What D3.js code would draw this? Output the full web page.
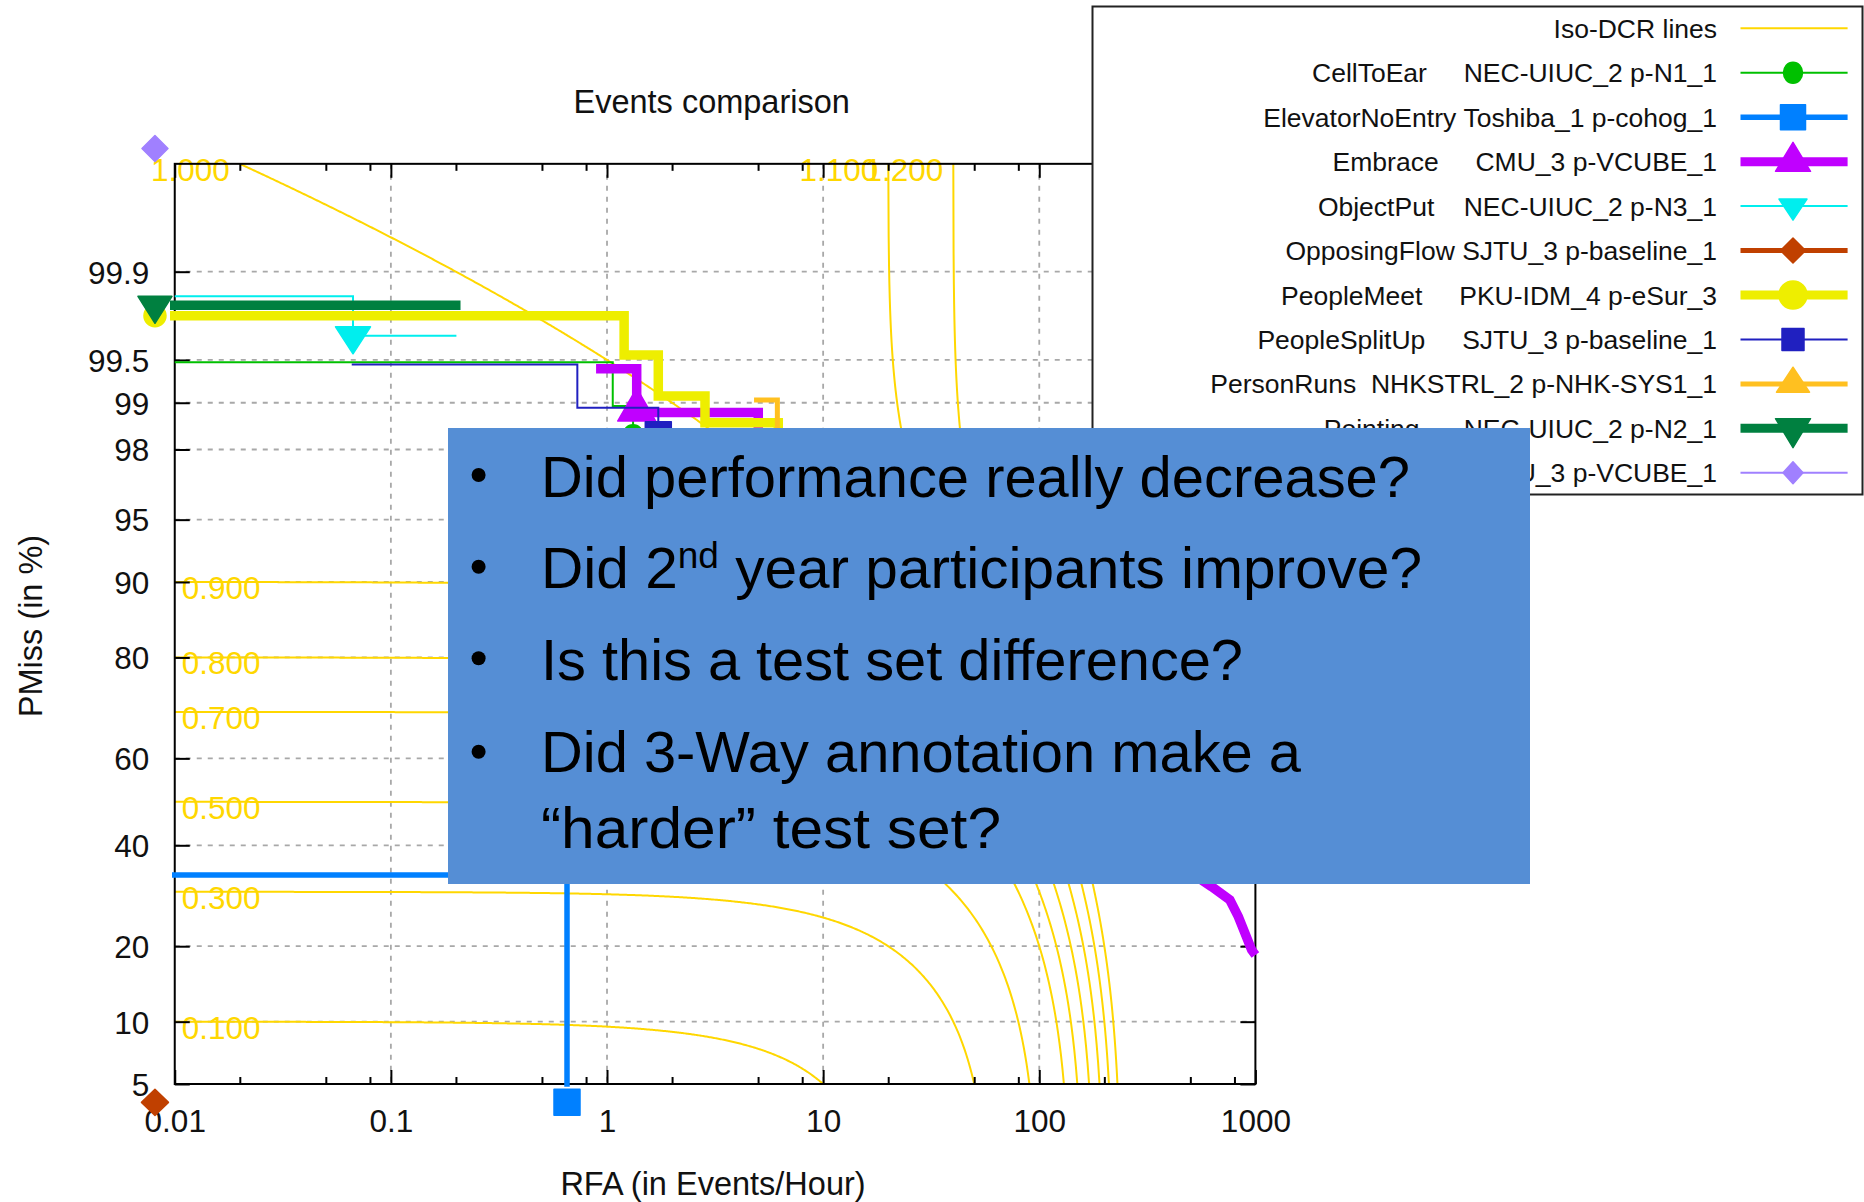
<!DOCTYPE html>
<html>
<head>
<meta charset="utf-8">
<script src="https://cdn.jsdelivr.net/npm/d3@7"></script>
<style>
  html, body { margin: 0; padding: 0; background: #fff; }
  svg { display: block; }
  text { font-family: "Liberation Sans", Arial, sans-serif; }
</style>
</head>
<body>
<svg id="chart" width="1864" height="1202"></svg>
<script>
// ---------- axis ticks ----------
const rfaTicks = [0.01, 0.1, 1, 10, 100, 1000];
const rfaTickLabels = ["0.01", "0.1", "1", "10", "100", "1000"];
const rfaMinorFactors = [2, 5, 8];
const rfaGrid = [0.1, 1, 10, 100];
const pmissTicks = [5, 10, 20, 40, 60, 80, 90, 95, 98, 99, 99.5, 99.9];
const pmissTickLabels = ["5", "10", "20", "40", "60", "80", "90", "95", "98", "99", "99.5", "99.9"];

// ---------- iso-DCR reference lines (DCR = PMiss + beta * RFA) ----------
const isoDcrLevels = [0.1, 0.3, 0.5, 0.7, 0.8, 0.9, 1.0, 1.1, 1.2];
const isoDcrBeta = 0.005;

// ---------- legend entries ----------
const eventNames = ["CellToEar", "ElevatorNoEntry", "Embrace", "ObjectPut", "OpposingFlow",
                    "PeopleMeet", "PeopleSplitUp", "PersonRuns", "Pointing", "TakePicture"];
const systemNames = ["NEC-UIUC_2 p-N1_1", "Toshiba_1 p-cohog_1", "CMU_3 p-VCUBE_1", "NEC-UIUC_2 p-N3_1",
                     "SJTU_3 p-baseline_1", "PKU-IDM_4 p-eSur_3", "SJTU_3 p-baseline_1",
                     "NHKSTRL_2 p-NHK-SYS1_1", "NEC-UIUC_2 p-N2_1", "CMU_3 p-VCUBE_1"];
const labelPadding = [5, 1, 5, 4, 1, 5, 5, 2, 6, 2];

// ---------- DET curves: [RFA (events/hour), PMiss (%)] ----------
const curveCellToEar = [[0.01, 99.48], [1.063, 99.48], [1.063, 98.95], [1.32, 98.95], [1.32, 98.38]];
const curveElevatorNoEntry = [[0.0081, 33.48], [0.653, 33.48], [0.653, 3.99]];
const curveEmbrace = [[0.89, 99.42], [1.372, 99.42], [1.372, 98.84], [5.01, 98.84], [5.01, 90],
                      [628, 31.04], [762, 28.36], [834, 25.15], [895, 22.17], [961, 19.39], [1000, 18.6]];
const curveObjectPut = [[0.01, 99.84], [0.0668, 99.84], [0.0668, 99.67], [0.201, 99.67]];
const curveOpposingFlow = [[0.0081, 3.99]];
const curvePeopleMeet = [[0.0081, 99.77], [1.20, 99.77], [1.20, 99.54], [1.727, 99.54], [1.727, 99.10],
                         [2.84, 99.10], [2.84, 98.645], [6.2, 98.645], [6.2, 95]];
const curvePeopleSplitUp = [[0.0659, 99.46], [0.729, 99.46], [0.729, 98.92], [1.727, 98.92], [1.727, 98.38]];
const curvePersonRuns = [[4.79, 99.04], [6.14, 99.04], [6.14, 95]];
const curvePointing = [[0.0081, 99.81], [0.21, 99.81]];
const curveTakePicture = [[0.0081, 99.993]];

// decision-point markers: [RFA, PMiss %] (null = none shown)
const markerPoints = [[1.32, 98.38], [0.653, 3.99], [1.372, 98.88], [0.0668, 99.67], [0.0081, 3.99],
                      [0.0081, 99.77], [1.727, 98.38], null, [0.0081, 99.81], [0.0081, 99.993]];

const curves = [curveCellToEar, curveElevatorNoEntry, curveEmbrace, curveObjectPut, curveOpposingFlow,
                curvePeopleMeet, curvePeopleSplitUp, curvePersonRuns, curvePointing, curveTakePicture];

// ---------- styles ----------
const isoColor = "#FFD700";
const seriesColors = ["#00C000", "#0080FF", "#C000FF", "#00EEEE", "#C04000",
                      "#EEEE00", "#2020C0", "#FFC020", "#008040", "#A080FF"];
const seriesWidths = [2, 5.5, 9.5, 2, 5, 9.5, 2, 5, 9.5, 2];
const markerShapes = ["circle", "square", "triUp", "triDown", "diamond",
                      "circle", "square", "triUp", "triDown", "diamond"];
const markerPlotSize = [[20, 20], [26, 26], [38, 33], [35, 27], [27, 26],
                        [22, 22], [26, 26], [33, 25], [34, 27], [26, 26]];
const markerLegendSize = [[19, 21], [25, 25], [35, 29], [28, 21], [25, 25],
                          [28, 28], [22, 22], [33, 25], [35, 29], [20, 22]];

// ---------- inverse normal CDF (probit), for the normal-deviate PMiss axis ----------
function probit(p) {
  const a = [-3.969683028665376e+01, 2.209460984245205e+02, -2.759285104469687e+02,
             1.383577518672690e+02, -3.066479806614716e+01, 2.506628277459239e+00];
  const b = [-5.447609879822406e+01, 1.615858368580409e+02, -1.556989798598866e+02,
             6.680131188771972e+01, -1.328068155288572e+01];
  const c = [-7.784894002430293e-03, -3.223964580411365e-01, -2.400758277161838e+00,
             -2.549732539343734e+00, 4.374664141464968e+00, 2.938163982698783e+00];
  const d = [7.784695709041462e-03, 3.224671290700398e-01, 2.445134137142996e+00,
             3.754408661907416e+00];
  const pl = 0.02425, ph = 1 - pl;
  let q, r;
  if (p < pl) {
    q = Math.sqrt(-2 * Math.log(p));
    return (((((c[0]*q + c[1])*q + c[2])*q + c[3])*q + c[4])*q + c[5]) /
           ((((d[0]*q + d[1])*q + d[2])*q + d[3])*q + 1);
  }
  if (p > ph) {
    q = Math.sqrt(-2 * Math.log(1 - p));
    return -(((((c[0]*q + c[1])*q + c[2])*q + c[3])*q + c[4])*q + c[5]) /
            ((((d[0]*q + d[1])*q + d[2])*q + d[3])*q + 1);
  }
  q = p - 0.5; r = q * q;
  return (((((a[0]*r + a[1])*r + a[2])*r + a[3])*r + a[4])*r + a[5]) * q /
         (((((b[0]*r + b[1])*r + b[2])*r + b[3])*r + b[4])*r + 1);
}

// ---------- layout & scales ----------
const svg = d3.select("#chart");
const plotLeft = 174.75, plotRight = 1255.4, plotBottom = 1084;
const x = d3.scaleLog().domain([0.01, 1000]).range([plotLeft, plotRight]);
const yz = d3.scaleLinear().domain([probit(0.05), probit(0.999)]).range([plotBottom, 271.7]);
const yP = pct => yz(probit(pct / 100));
const plotTop = yP(99.99);
const plotW = plotRight - plotLeft, plotH = plotBottom - plotTop;

const tickFont = 31.5;
const defs = svg.append("defs");

// clip regions: the plot frame widened by half of each line width
function clipFor(id, pad) {
  defs.append("clipPath").attr("id", id).append("rect")
    .attr("x", plotLeft - pad).attr("y", plotTop - pad)
    .attr("width", plotW + 2 * pad).attr("height", plotH + 2 * pad);
  return `url(#${id})`;
}
const plotClip = clipFor("clip-plot", 0);

// ---------- title ----------
svg.append("text").attr("x", 711.7).attr("y", 112.7).attr("text-anchor", "middle")
  .attr("font-size", 32.5).attr("fill", "#111").text("Events comparison");

// ---------- grid ----------
const grid = svg.append("g").attr("stroke", "#a8a8a8").attr("stroke-width", 1.8)
  .attr("stroke-dasharray", "5,6");
grid.selectAll("line.v").data(rfaGrid).join("line").attr("class", "v")
  .attr("x1", d => x(d)).attr("x2", d => x(d)).attr("y1", plotTop).attr("y2", plotBottom);
grid.selectAll("line.h").data(pmissTicks.slice(1)).join("line").attr("class", "h")
  .attr("x1", plotLeft).attr("x2", plotRight).attr("y1", d => yP(d)).attr("y2", d => yP(d));

// ---------- iso-DCR lines ----------
const lineGen = d3.line().x(d => x(d[0])).y(d => yP(d[1]));
const isoG = svg.append("g");
isoDcrLevels.forEach(D => {
  const r0 = Math.max(0.01, (D - 0.9999) / isoDcrBeta);
  const r1 = Math.min(1000, (D - 0.05) / isoDcrBeta);
  const n = 600;
  const pts = d3.range(n + 1).map(i => {
    const r = r0 * Math.pow(r1 / r0, i / n);
    return [r, Math.max(5, (D - isoDcrBeta * r) * 100)];
  });
  isoG.append("path").attr("d", lineGen(pts)).attr("fill", "none")
    .attr("stroke", isoColor).attr("stroke-width", 2).attr("clip-path", plotClip);
  const fromLeft = r0 === 0.01;
  isoG.append("text")
    .attr("x", fromLeft ? x(r0) + 7 : x(r0) - 10)
    .attr("y", (fromLeft ? yP(pts[0][1]) : plotTop) + 17)
    .attr("text-anchor", fromLeft ? "start" : "end")
    .attr("font-size", tickFont).attr("fill", isoColor)
    .text(D.toFixed(3));
});

// ---------- axes ----------
const minorTicks = [];
rfaTicks.slice(0, -1).forEach(t => rfaMinorFactors.forEach(f => minorTicks.push(t * f)));

function styleAxis(g) {
  g.select(".domain").remove();
  g.selectAll(".tick line").attr("stroke", "#000").attr("stroke-width", 2);
  g.selectAll(".tick text").attr("fill", "#111").attr("font-size", tickFont)
    .attr("font-family", "Liberation Sans, Arial, sans-serif");
}

svg.append("g").attr("transform", `translate(0,${plotBottom})`)
  .call(d3.axisBottom(x).tickValues(rfaTicks).tickFormat((d, i) => rfaTickLabels[i])
    .tickSize(-14).tickPadding(26))
  .call(styleAxis);
svg.append("g").attr("transform", `translate(0,${plotBottom})`)
  .call(d3.axisBottom(x).tickValues(minorTicks).tickFormat("").tickSize(-7))
  .call(styleAxis);
svg.append("g").attr("transform", `translate(0,${plotTop})`)
  .call(d3.axisTop(x).tickValues(rfaTicks).tickFormat("").tickSize(-14))
  .call(styleAxis);
svg.append("g").attr("transform", `translate(0,${plotTop})`)
  .call(d3.axisTop(x).tickValues(minorTicks).tickFormat("").tickSize(-7))
  .call(styleAxis);

const zTicks = pmissTicks.map(p => probit(p / 100));
svg.append("g").attr("transform", `translate(${plotLeft},0)`)
  .call(d3.axisLeft(yz).tickValues(zTicks).tickFormat((d, i) => pmissTickLabels[i])
    .tickSize(-15).tickPadding(25.5))
  .call(styleAxis)
  .call(g => g.selectAll(".tick text").attr("dy", "0.36em"));
svg.append("g").attr("transform", `translate(${plotRight},0)`)
  .call(d3.axisRight(yz).tickValues(zTicks).tickFormat("").tickSize(-15))
  .call(styleAxis);

// frame
svg.append("rect").attr("x", plotLeft).attr("y", plotTop).attr("width", plotW).attr("height", plotH)
  .attr("fill", "none").attr("stroke", "#000").attr("stroke-width", 2);

// axis titles
svg.append("text").attr("x", 713).attr("y", 1195).attr("text-anchor", "middle")
  .attr("font-size", 32.5).attr("fill", "#111").text("RFA (in Events/Hour)");
svg.append("text").attr("transform", "translate(41.5,626) rotate(-90)").attr("text-anchor", "middle")
  .attr("font-size", 32.5).attr("fill", "#111").text("PMiss (in %)");

// ---------- marker shapes ----------
function markerPath(shape, w, h) {
  switch (shape) {
    case "circle": {
      const rx = w / 2, ry = h / 2;
      return `M${-rx},0A${rx},${ry} 0 1,0 ${rx},0A${rx},${ry} 0 1,0 ${-rx},0Z`;
    }
    case "square": return `M${-w/2},${-h/2}H${w/2}V${h/2}H${-w/2}Z`;
    case "triUp": return `M0,${-2*h/3}L${w/2},${h/3}L${-w/2},${h/3}Z`;
    case "triDown": return `M0,${2*h/3}L${w/2},${-h/3}L${-w/2},${-h/3}Z`;
    case "diamond": return `M0,${-h/2}L${w/2},0L0,${h/2}L${-w/2},0Z`;
  }
}

// ---------- DET curves ----------
const curveG = svg.append("g");
curves.forEach((pts, i) => {
  const g = curveG.append("g");
  if (pts.length > 1) {
    g.append("path").attr("d", lineGen(pts)).attr("fill", "none")
      .attr("stroke", seriesColors[i]).attr("stroke-width", seriesWidths[i])
      .attr("stroke-linejoin", "miter").attr("stroke-linecap", "butt")
      .attr("clip-path", clipFor(`clip-s${i}`, seriesWidths[i] / 2));
  }
  const m = markerPoints[i];
  if (m) {
    const [w, h] = markerPlotSize[i];
    g.append("path").attr("d", markerPath(markerShapes[i], w, h))
      .attr("transform", `translate(${x(m[0])},${yP(m[1])})`)
      .attr("fill", seriesColors[i]).attr("stroke", seriesColors[i])
      .attr("stroke-width", 1.5).attr("stroke-linejoin", "round");
  }
});

// ---------- legend ----------
const lg = svg.append("g");
lg.append("rect").attr("x", 1092.5).attr("y", 6.5).attr("width", 770).attr("height", 488)
  .attr("fill", "#fff").attr("stroke", "#222").attr("stroke-width", 2);
const rowY = i => 28.3 + i * 44.45;
const textRight = 1717, sampleL = 1740.5, sampleR = 1847.6, sampleMid = 1793;
const legendRows = [{label: "Iso-DCR lines", color: isoColor, width: 2, idx: -1}]
  .concat(eventNames.map((ev, i) => ({
    label: ev + "\u00A0".repeat(labelPadding[i]) + systemNames[i],
    color: seriesColors[i], width: seriesWidths[i], idx: i
  })));
legendRows.forEach((row, r) => {
  const cy = rowY(r);
  lg.append("text").attr("x", textRight).attr("y", cy + 9.5).attr("text-anchor", "end")
    .attr("font-size", 26.5).attr("fill", "#111").text(row.label);
  lg.append("line").attr("x1", sampleL).attr("x2", sampleR).attr("y1", cy).attr("y2", cy)
    .attr("stroke", row.color).attr("stroke-width", Math.min(row.width, 9));
  if (row.idx >= 0) {
    const [w, h] = markerLegendSize[row.idx];
    lg.append("path").attr("d", markerPath(markerShapes[row.idx], w, h))
      .attr("transform", `translate(${sampleMid},${cy})`)
      .attr("fill", row.color).attr("stroke", row.color).attr("stroke-width", 1.5)
      .attr("stroke-linejoin", "round");
  }
});

// ---------- question callout ----------
const box = svg.append("g");
box.append("rect").attr("x", 448).attr("y", 428).attr("width", 1082).attr("height", 456)
  .attr("fill", "#558ED5");
const qFont = "Lato, 'Open Sans', sans-serif";
const qSize = 57;
const bulletY = [475, 566.7, 658.3, 751.7];
bulletY.forEach(by => box.append("circle").attr("cx", 478.6).attr("cy", by).attr("r", 7).attr("fill", "#000"));

function qLine(y, len) {
  return box.append("text").attr("x", 541).attr("y", y)
    .attr("font-family", qFont).attr("font-size", qSize).attr("fill", "#000")
    .attr("textLength", len).attr("lengthAdjust", "spacingAndGlyphs");
}
qLine(496.7, 869).text("Did performance really decrease?");
const l2 = qLine(588.3, 881);
l2.append("tspan").text("Did 2");
l2.append("tspan").attr("font-size", 36).attr("dy", -20).text("nd");
l2.append("tspan").attr("dy", 20).text(" year participants improve?");
qLine(680, 702).text("Is this a test set difference?");
qLine(772.3, 760).text("Did 3-Way annotation make a");
qLine(848.3, 460).text("\u201Charder\u201D test set?");
</script>
</body>
</html>
